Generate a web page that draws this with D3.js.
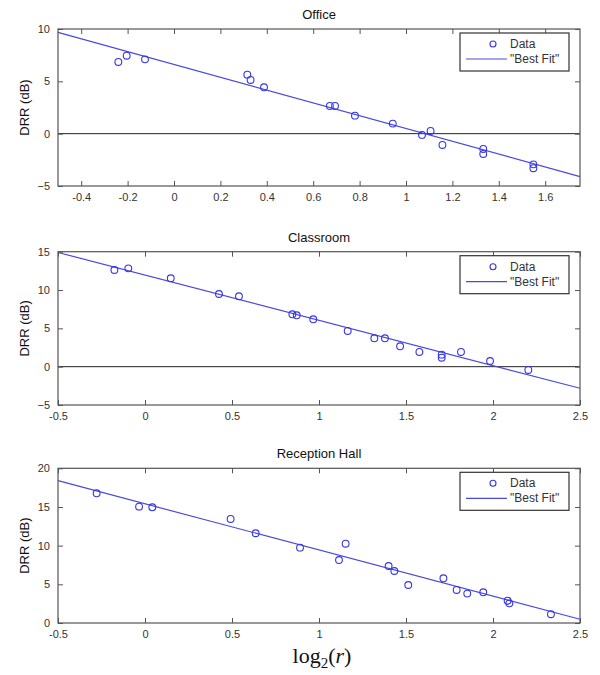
<!DOCTYPE html>
<html><head><meta charset="utf-8">
<script src="https://cdn.jsdelivr.net/npm/d3@7"></script>
<style>body{margin:0;background:#fff}svg{display:block}</style>
</head><body>
<script>
// ---- data ----
const titles = ["Office", "Classroom", "Reception Hall"];
const officeX = [-0.24, -0.204, -0.125, 0.316, 0.33, 0.388, 0.672, 0.694, 0.78, 0.943, 1.069, 1.106, 1.157, 1.333, 1.333, 1.549, 1.549];
const officeY = [6.85, 7.45, 7.1, 5.64, 5.13, 4.43, 2.65, 2.65, 1.72, 0.96, -0.12, 0.26, -1.08, -1.46, -1.94, -2.93, -3.3];
const officeFitX = [-0.5, 1.75];
const officeFitY = [9.68, -4.1];
const classX = [-0.176, -0.096, 0.148, 0.425, 0.54, 0.847, 0.872, 0.967, 1.165, 1.318, 1.379, 1.466, 1.577, 1.705, 1.705, 1.816, 1.983, 2.203];
const classY = [12.61, 12.83, 11.53, 9.48, 9.18, 6.83, 6.7, 6.18, 4.66, 3.7, 3.7, 2.66, 1.92, 1.57, 1.17, 1.92, 0.74, -0.43];
const classFitX = [-0.5, 2.5];
const classFitY = [14.9, -2.82];
const hallX = [-0.278, -0.034, 0.042, 0.492, 0.636, 0.891, 1.115, 1.153, 1.4, 1.433, 1.513, 1.715, 1.791, 1.852, 1.944, 2.084, 2.094, 2.333];
const hallY = [16.77, 15.04, 14.96, 13.45, 11.6, 9.74, 8.14, 10.25, 7.37, 6.72, 4.91, 5.78, 4.27, 3.8, 3.97, 2.88, 2.54, 1.14];
const hallFitX = [-0.5, 2.5];
const hallFitY = [18.4, 0.48];
const officeXTicks = [-0.4, -0.2, 0, 0.2, 0.4, 0.6, 0.8, 1, 1.2, 1.4, 1.6];
const officeXLabels = ["-0.4", "-0.2", "0", "0.2", "0.4", "0.6", "0.8", "1", "1.2", "1.4", "1.6"];
const wideXTicks = [-0.5, 0, 0.5, 1, 1.5, 2, 2.5];
const wideXLabels = ["-0.5", "0", "0.5", "1", "1.5", "2", "2.5"];
const officeYTicks = [-5, 0, 5, 10];
const classYTicks = [-5, 0, 5, 10, 15];
const hallYTicks = [0, 5, 10, 15, 20];
const legendLabels = ["Data", "\"Best Fit\""];

// ---- layout ----
const W = 600, H = 675;
const left = 58, right = 580;
const panels = [
  {title: titles[0], xs: officeX, ys: officeY, fx: officeFitX, fy: officeFitY, xd: [-0.5, 1.75], yd: [-5, 10], xt: officeXTicks, xl: officeXLabels, yt: officeYTicks, top: 29, bottom: 186, zero: true},
  {title: titles[1], xs: classX, ys: classY, fx: classFitX, fy: classFitY, xd: [-0.5, 2.5], yd: [-5, 15], xt: wideXTicks, xl: wideXLabels, yt: classYTicks, top: 251.7, bottom: 405, zero: true},
  {title: titles[2], xs: hallX, ys: hallY, fx: hallFitX, fy: hallFitY, xd: [-0.5, 2.5], yd: [0, 20], xt: wideXTicks, xl: wideXLabels, yt: hallYTicks, top: 468.3, bottom: 623, zero: false}
];
const markColor = "#3535e8", lineColor = "#4a4ae0", frame = "#555", textCol = "#333";
const font = "Liberation Sans, Arial, sans-serif";

const svg = d3.select("body").append("svg").attr("width", W).attr("height", H);

panels.forEach(p => {
  const x = d3.scaleLinear().domain(p.xd).range([left, right]);
  const y = d3.scaleLinear().domain(p.yd).range([p.bottom, p.top]);
  const g = svg.append("g");

  if (p.zero) {
    g.append("line").attr("x1", left).attr("x2", right).attr("y1", y(0)).attr("y2", y(0))
      .attr("stroke", "#222").attr("stroke-width", 1);
  }
  const fit = p.fx.map((v, i) => [v, p.fy[i]]);
  g.append("path").datum(fit)
    .attr("d", d3.line().x(d => x(d[0])).y(d => y(d[1])))
    .attr("fill", "none").attr("stroke", lineColor).attr("stroke-width", 1.2);
  g.selectAll("circle.pt").data(p.xs.map((v, i) => [v, p.ys[i]])).join("circle")
    .attr("class", "pt").attr("cx", d => x(d[0])).attr("cy", d => y(d[1])).attr("r", 3.4)
    .attr("fill", "none").attr("stroke", markColor).attr("stroke-width", 1.1);

  const fmtX = v => p.xl[p.xt.indexOf(v)];
  const ax = (axis) => axis.tickSizeInner(-5).tickSizeOuter(0).tickPadding(7);
  const gb = g.append("g").attr("transform", `translate(0,${p.bottom})`)
    .call(ax(d3.axisBottom(x).tickValues(p.xt).tickFormat(fmtX)));
  const gt = g.append("g").attr("transform", `translate(0,${p.top})`)
    .call(ax(d3.axisTop(x).tickValues(p.xt).tickFormat("")));
  const gl = g.append("g").attr("transform", `translate(${left},0)`)
    .call(ax(d3.axisLeft(y).tickValues(p.yt).tickFormat(d3.format("d"))));
  const gr = g.append("g").attr("transform", `translate(${right},0)`)
    .call(ax(d3.axisRight(y).tickValues(p.yt).tickFormat("")));
  [gb, gt, gl, gr].forEach(a => {
    a.select(".domain").remove();
    a.selectAll("line").attr("stroke", frame);
    a.selectAll("text").attr("fill", textCol).style("font-family", font).style("font-size", "11px");
  });
  gl.selectAll("text").attr("dx", "-1px");
  g.append("rect").attr("x", left).attr("y", p.top).attr("width", right - left).attr("height", p.bottom - p.top)
    .attr("fill", "none").attr("stroke", frame).attr("stroke-width", 1.2);

  g.append("text").attr("x", (left + right) / 2).attr("y", p.top - 10).attr("text-anchor", "middle")
    .style("font-family", font).style("font-size", "13px").attr("fill", "#111").text(p.title);
  g.append("text").attr("transform", `translate(29,${(p.top + p.bottom) / 2}) rotate(-90)`)
    .attr("text-anchor", "middle").style("font-family", font).style("font-size", "13px")
    .attr("fill", "#111").text("DRR (dB)");

  const lx = 460, ly = p.top + 4, lw = 109, lh = 38;
  const lg = g.append("g");
  lg.append("rect").attr("x", lx).attr("y", ly).attr("width", lw).attr("height", lh)
    .attr("fill", "#fff").attr("stroke", "#333").attr("stroke-width", 1.2);
  lg.append("circle").attr("cx", lx + 33).attr("cy", ly + 11).attr("r", 3)
    .attr("fill", "none").attr("stroke", markColor).attr("stroke-width", 1.1);
  lg.append("line").attr("x1", lx + 6).attr("x2", lx + 47).attr("y1", ly + 26).attr("y2", ly + 26)
    .attr("stroke", lineColor).attr("stroke-width", 1.2);
  lg.selectAll("text").data(legendLabels).join("text")
    .attr("x", lx + 50).attr("y", (d, i) => ly + 15 + i * 15)
    .style("font-family", font).style("font-size", "12px").attr("fill", "#333").text(d => d);
});

const xl = svg.append("text").attr("x", 322).attr("y", 663).attr("text-anchor", "middle")
  .style("font-family", "Liberation Serif, DejaVu Serif, serif").style("font-size", "22px").attr("fill", "#111");
xl.append("tspan").text("log");
xl.append("tspan").attr("dy", 5).style("font-size", "15px").text("2");
xl.append("tspan").attr("dy", -5).text("(");
xl.append("tspan").style("font-style", "italic").text("r");
xl.append("tspan").text(")");
</script>
</body></html>
